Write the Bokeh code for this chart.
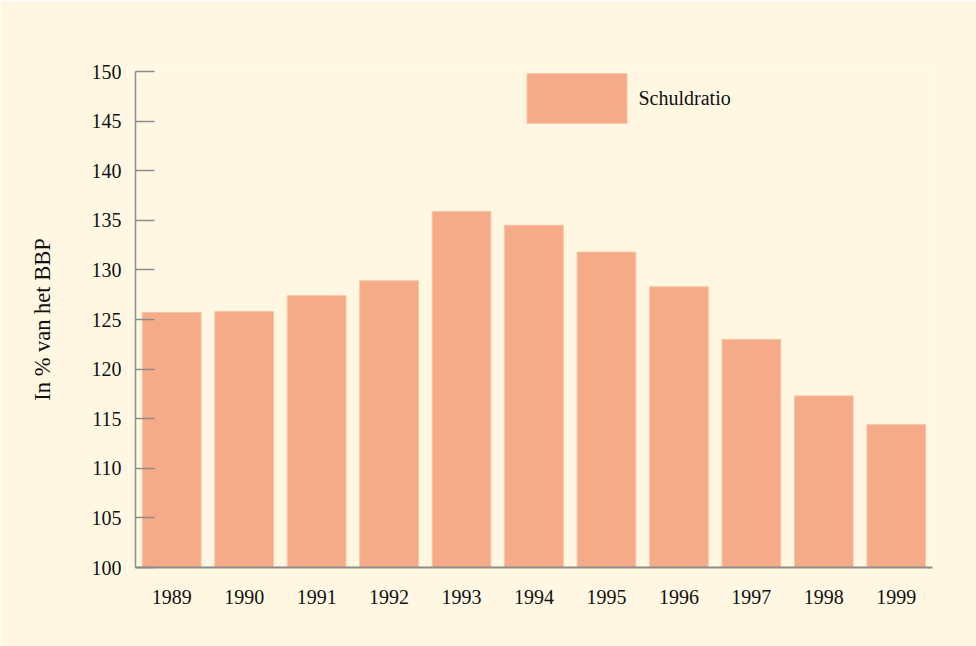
from bokeh.plotting import figure
from bokeh.models import Legend, LegendItem, FixedTicker, Range1d
from bokeh.embed import file_html
from bokeh.resources import INLINE

years = ["1989", "1990", "1991", "1992", "1993", "1994", "1995", "1996", "1997", "1998", "1999"]
schuldratio = [125.7, 125.8, 127.4, 128.9, 135.9, 134.5, 131.8, 128.3, 123.0, 117.3, 114.4]
y_ticks = [100, 105, 110, 115, 120, 125, 130, 135, 140, 145, 150]

BG = "#FFF7E2"
BAR = "#F5AB87"
AXIS = "#8C8C8C"
FONT = "Liberation Serif"

p = figure(x_range=years, y_range=Range1d(100, 150),
           frame_width=797, frame_height=496,
           min_border_left=135, min_border_right=44, min_border_top=71, min_border_bottom=79,
           output_backend="svg", toolbar_location=None)
p.background_fill_color = BG
p.border_fill_color = BG
p.outline_line_color = None
p.grid.visible = False
p.x_range.range_padding = 0

r = p.vbar(x=years, top=schuldratio, bottom=100, width=0.81,
           fill_color=BAR, line_color="#FAC3A4", line_width=1)

ya = p.yaxis[0]
ya.ticker = FixedTicker(ticks=y_ticks)
ya.axis_line_color = AXIS
ya.axis_line_width = 1.5
ya.major_tick_line_color = AXIS
ya.major_tick_line_width = 1.5
ya.major_tick_in = 19
ya.major_tick_out = 0
ya.minor_tick_line_color = None
ya.major_label_standoff = 14
ya.major_label_text_font = FONT
ya.major_label_text_font_size = "20px"
ya.major_label_text_color = "#111111"
ya.axis_label = "In % van het BBP"
ya.axis_label_text_font = FONT
ya.axis_label_text_font_size = "22.5px"
ya.axis_label_text_font_style = "normal"
ya.axis_label_text_color = "#111111"
ya.axis_label_standoff = 34

xa = p.xaxis[0]
xa.axis_line_color = AXIS
xa.axis_line_width = 2
xa.major_tick_line_color = None
xa.minor_tick_line_color = None
xa.major_label_standoff = 16
xa.major_label_text_font = FONT
xa.major_label_text_font_size = "20px"
xa.major_label_text_color = "#111111"

legend = Legend(items=[LegendItem(label="Schuldratio", renderers=[r])],
                location=(378.5, 437.75), glyph_width=125, glyph_height=62,
                label_standoff=0, padding=0, margin=0, spacing=0,
                border_line_color=None, background_fill_alpha=0,
                label_text_font=FONT, label_text_font_size="20px",
                label_text_color="#111111")
p.add_layout(legend)

open("out.html", "w").write(file_html(p, INLINE))
